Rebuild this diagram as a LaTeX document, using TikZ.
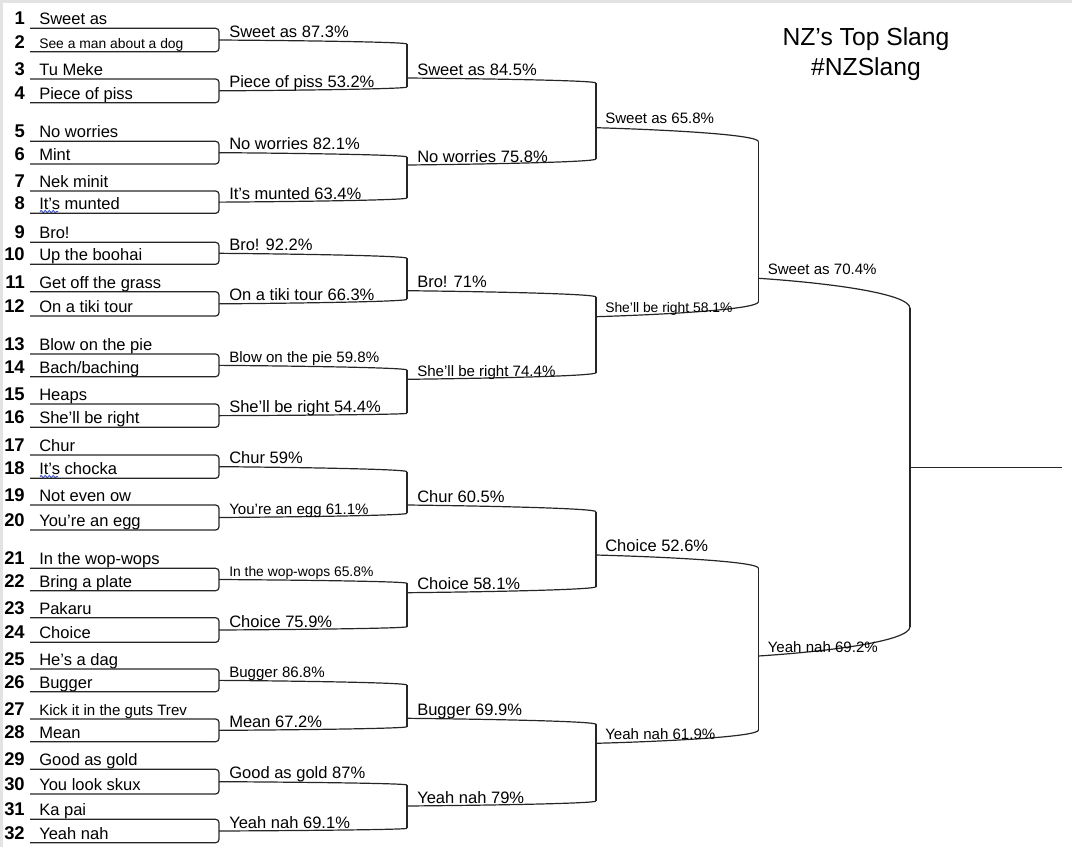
\documentclass[tikz,border=0pt]{standalone}
\usepackage{fontspec}
\setmainfont{Liberation Sans}
\usetikzlibrary{calc, decorations.pathmorphing}

\definecolor{spell}{RGB}{60,85,215}
\newcommand\sm{\fontsize{10.4}{12}\selectfont}
\newcommand\md{\fontsize{11.3}{13}\selectfont}

\tikzset{
  wire/.style={draw=black!85, line width=0.9pt},
  num/.style={anchor=base east, inner sep=0pt, font=\fontsize{13.8}{16}\selectfont\bfseries},
  entry/.style={anchor=base west, inner sep=0pt, font=\fontsize{12.4}{15}\selectfont},
  pick/.style={anchor=base west, inner sep=0pt, font=\fontsize{12.4}{15}\selectfont},
  heading/.style={anchor=base, inner sep=0pt, font=\fontsize{18.5}{22}\selectfont},
  squig/.style={spell, line width=0.7pt, decorate, decoration={snake, amplitude=0.9pt, segment length=3pt}},
  slope/.style={to path={let \p1=(\tikztostart), \p2=(\tikztotarget) in
    .. controls ({\x1+0.45*(\x2-\x1)},{\y1+0.15*(\y2-\y1)})
    and ({\x2},{\y1+0.5*(\y2-\y1)}) .. (\tikztotarget)}}
}

\begin{document}
\begin{tikzpicture}[x=0.75pt, y=-0.75pt]
\useasboundingbox (0,0) rectangle (1072,847);
% Window edge
\fill[gray!22] (0,0) rectangle (1072,2.5);
\fill[gray!22] (0,0) rectangle (2.5,847);

% Title
\node[heading] (head) at (866,45) {NZ’s Top Slang};
\node[heading] (tag) at (866,75) {\#NZSlang};

% Entries
\foreach \n/\y/\t in {1/28.3/Sweet as, 2/51.7/{\sm See a man about a dog}, 3/79/Tu Meke,
    4/102.7/Piece of piss, 5/141.3/No worries, 6/164/Mint, 7/191/Nek minit,
    8/213.3/It’s munted, 9/242.3/Bro!, 10/264.3/Up the boohai, 11/291.7/Get off the grass,
    12/316/On a tiki tour, 13/354/Blow on the pie, 14/376.7/{Bach/baching}, 15/404/Heaps,
    16/427.3/She’ll be right, 17/455/Chur, 18/478.3/It’s chocka, 19/505/Not even ow,
    20/530/You’re an egg, 21/568.3/In the wop-wops, 22/590.7/Bring a plate, 23/617.7/Pakaru,
    24/642.3/Choice, 25/669/He’s a dag, 26/691.7/Bugger, 27/719/{\md Kick it in the guts Trev},
    28/741.7/Mean, 29/769.3/Good as gold, 30/794/You look skux, 31/819.3/Ka pai, 32/842.7/Yeah nah}{
  \coordinate (s\n) at (30,\y);
  \node[num] (n\n) at (25,\y-3.5) {\n};
  \node[entry] (e\n) at (39,\y-3.5) {\t};
}
\draw[squig] ($(e8.base west)+(1,1.8)$) -- ++(18,0);
\draw[squig] ($(e18.base west)+(1,1.8)$) -- ++(18,0);

% Round 1
\foreach \i/\t/\b in {1/1/2, 2/3/4, 3/5/6, 4/7/8, 5/9/10, 6/11/12, 7/13/14, 8/15/16,
    9/17/18, 10/19/20, 11/21/22, 12/23/24, 13/25/26, 14/27/28, 15/29/30, 16/31/32}{
  \coordinate (a\i) at ($(s\t)!0.5!(s\b)+(189,0)$);
  \draw[wire, rounded corners=2.5pt] (s\t) -| (a\i) |- (s\b);
}

% Round 2
\foreach \i/\y in {1/44, 2/87, 3/157, 4/198, 5/258.3, 6/299.3, 7/370, 8/413.3,
    9/471.7, 10/513.3, 11/583.3, 12/626.7, 13/685, 14/726.7, 15/785, 16/828.3}
  \coordinate (p\i) at (407,\y);
\foreach \i/\y in {1/78, 2/165, 3/290.7, 4/379.3, 5/505, 6/592.7, 7/718.3, 8/806}
  \coordinate (b\i) at (407,\y);
\foreach \i in {1,...,16}
  \draw[wire] (a\i) to[slope] (p\i);
\foreach \u/\v in {1/2, 3/4, 5/6, 7/8, 9/10, 11/12, 13/14, 15/16}
  \draw[wire] (p\u) -- (p\v);
\foreach \i/\t in {1/Sweet as 87.3\%, 2/Piece of piss 53.2\%, 3/No worries 82.1\%,
    4/It’s munted 63.4\%, 5/Bro! 92.2\%, 6/On a tiki tour 66.3\%, 7/{\md Blow on the pie 59.8\%},
    8/She’ll be right 54.4\%, 9/Chur 59\%, 10/{\md You’re an egg 61.1\%},
    11/{\sm In the wop-wops 65.8\%}, 12/Choice 75.9\%, 13/{\md Bugger 86.8\%},
    14/Mean 67.2\%, 15/Good as gold 87\%, 16/Yeah nah 69.1\%}
  \node[pick] (w\i) at ([shift={(10,-3)}]a\i) {\t};

% Round 3
\foreach \i/\y in {1/83, 2/159, 3/297, 4/372.7, 5/511.7, 6/586.7, 7/724.3, 8/801}
  \coordinate (q\i) at (596,\y);
\foreach \i/\y in {1/127.7, 2/316.7, 3/555, 4/743.3}
  \coordinate (c\i) at (596,\y);
\foreach \i in {1,...,8}
  \draw[wire] (b\i) to[slope] (q\i);
\foreach \u/\v in {1/2, 3/4, 5/6, 7/8}
  \draw[wire] (q\u) -- (q\v);
\foreach \i/\t in {1/Sweet as 84.5\%, 2/No worries 75.8\%, 3/Bro! 71\%,
    4/{\md She’ll be right 74.4\%}, 5/Chur 60.5\%, 6/Choice 58.1\%,
    7/Bugger 69.9\%, 8/Yeah nah 79\%}
  \node[pick] (x\i) at ([shift={(10,-3)}]b\i) {\t};

% Round 4
\foreach \i/\y in {1/141.7, 2/301.7, 3/568.3, 4/730}
  \coordinate (r\i) at (758.5,\y);
\coordinate (d1) at (758.5,278.3);
\coordinate (d2) at (758.5,656);
\foreach \i in {1,...,4}
  \draw[wire] (c\i) to[slope] (r\i);
\draw[wire] (r1) -- (r2);
\draw[wire] (r3) -- (r4);
\foreach \i/\t in {1/{\md Sweet as 65.8\%}, 2/{\sm She’ll be right 58.1\%},
    3/Choice 52.6\%, 4/{\md Yeah nah 61.9\%}}
  \node[pick] (y\i) at ([shift={(9,-4)}]c\i) {\t};

% Final
\coordinate (u1) at (910,308.3);
\coordinate (u2) at (910,626.7);
\coordinate (f) at (910,467.3);
\coordinate (g) at (1062,467.3);
\draw[wire] (d1) to[slope] (u1);
\draw[wire] (d2) to[slope] (u2);
\draw[wire] (u1) -- (u2);
\draw[wire] (f) -- (g);
\node[pick] (z1) at ([shift={(9,-4)}]d1) {\md Sweet as 70.4\%};
\node[pick] (z2) at ([shift={(9,-4)}]d2) {\md Yeah nah 69.2\%};
\end{tikzpicture}
\end{document}
